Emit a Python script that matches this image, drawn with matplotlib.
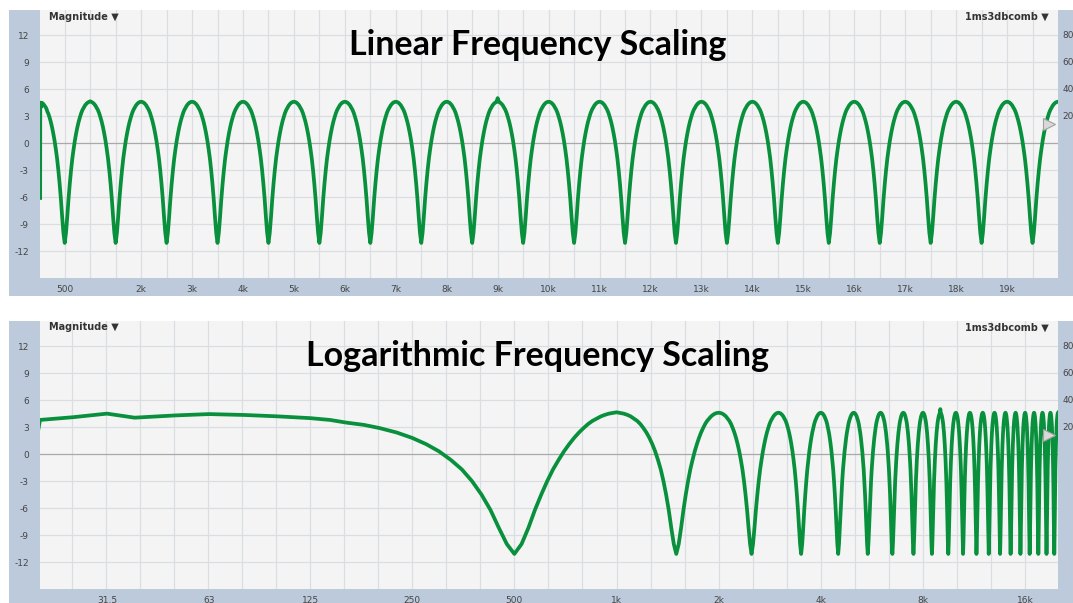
import matplotlib
matplotlib.use("Agg")
import matplotlib.pyplot as plt
import matplotlib.transforms as mtransforms
from matplotlib.patches import Rectangle

low_freq = [18, 20, 25, 31.5, 38, 50, 63, 80, 100, 125, 143, 160, 180, 200]
low_db = [-6.1, 3.8, 4.1, 4.5, 4.05, 4.3, 4.45, 4.35, 4.2, 4.0, 3.8, 3.5, 3.25, 2.9]

# one comb period (offset from a peak in Hz, level in dB)
lobe_offset = [0, 25, 50, 75, 100, 125, 150, 175, 200, 225, 250, 275, 300, 325,
               350, 375, 400, 425, 450, 475, 500, 525, 550, 575, 600, 625, 650,
               675, 700, 725, 750, 775, 800, 825, 850, 875, 900, 925, 950, 975]
lobe_db = [4.6, 4.57, 4.5, 4.37, 4.2, 3.95, 3.7, 3.35, 2.9, 2.4, 1.8, 1.1, 0.3, -0.65,
           -1.7, -3.0, -4.5, -6.2, -8.2, -10.0, -11.1, -10.0, -8.2, -6.2, -4.5, -3.0, -1.7,
           -0.65, 0.3, 1.1, 1.8, 2.4, 2.9, 3.35, 3.7, 3.95, 4.2, 4.37, 4.5, 4.57]

# peak level of every lobe, 0 Hz .. 20 kHz
peak_db = [4.6, 4.65, 4.6, 4.6, 4.6, 4.6, 4.6, 4.6, 4.6, 5.0, 4.6,
           4.6, 4.6, 4.6, 4.6, 4.6, 4.6, 4.6, 4.6, 4.6, 4.6]

lin_ticks = [500, 2000, 3000, 4000, 5000, 6000, 7000, 8000, 9000, 10000,
             11000, 12000, 13000, 14000, 15000, 16000, 17000, 18000, 19000]
lin_labels = ["500", "2k", "3k", "4k", "5k", "6k", "7k", "8k", "9k", "10k",
              "11k", "12k", "13k", "14k", "15k", "16k", "17k", "18k", "19k"]
log_ticks = [31.5, 63, 125, 250, 500, 1000, 2000, 4000, 8000, 16000]
log_labels = ["31.5", "63", "125", "250", "500", "1k", "2k", "4k", "8k", "16k"]
y_ticks = [12, 9, 6, 3, 0, -3, -6, -9, -12]
right_labels = ["80", "60", "40", "20"]
marker_db = 2.1

# assemble the measurement: low end, then the repeating lobes
freq = list(low_freq)
level = list(low_db)
for k in range(20):
    for off, db in zip(lobe_offset, lobe_db):
        f = k * 1000 + off
        if f <= low_freq[-1]:
            continue
        freq.append(f)
        level.append(peak_db[k] if off == 0 else db)
freq.append(20000)
level.append(peak_db[20])

W, H = 1073, 603
GREEN = "#08903d"
FRAME = "#bccadb"
PLOT_BG = "#f4f4f4"
GRID = "#dcdde3"

fig = plt.figure(figsize=(W / 100, H / 100), dpi=100)
fig.patch.set_facecolor("white")


def panel(top, title, log):
    # bluish frame behind the plot area
    fig.patches.append(Rectangle((9 / W, 1 - (top + 286) / H), 1064 / W, 286 / H,
                                 transform=fig.transFigure, facecolor=FRAME,
                                 edgecolor="none", zorder=-10))
    ax = fig.add_axes([40 / W, 1 - (top + 268) / H, 1018 / W, 268 / H])
    ax.set_zorder(1)
    ax.set_facecolor(PLOT_BG)
    for s in ax.spines.values():
        s.set_visible(False)

    if log:
        ax.set_xscale("log")
        ax.set_xlim(20, 20000)
        for k in range(-16, 13):
            ax.axvline(1000 * 2 ** (k / 3), color=GRID, lw=0.9, zorder=1)
        ax.set_xticks(log_ticks)
        ax.set_xticklabels(log_labels)
        ax.xaxis.set_minor_locator(matplotlib.ticker.NullLocator())
    else:
        ax.set_xlim(15, 20000)
        for f in range(500, 20000, 500):
            ax.axvline(f, color=GRID, lw=0.9, zorder=1)
        ax.set_xticks(lin_ticks)
        ax.set_xticklabels(lin_labels)

    ax.set_ylim(-15, 14.8)
    for y in y_ticks:
        ax.axhline(y, color="#a9a9a9" if y == 0 else GRID, lw=0.9, zorder=1)
    ax.set_yticks(y_ticks)
    ax.set_yticklabels([str(y) for y in y_ticks])
    ax.tick_params(length=0, labelsize=6.5, labelcolor="#454545", pad=5)
    ax.tick_params(axis="y", pad=8)

    ax.plot(freq, level, color=GREEN, lw=2.7, zorder=3, solid_joinstyle="round")

    trans = mtransforms.blended_transform_factory(ax.transAxes, ax.transData)
    ax.plot([0.991], [marker_db], transform=trans, marker=">", ms=9,
            mfc="#d9d9d9", mec="#a0a0a0", mew=0.8, ls="none", zorder=4, clip_on=False)
    for lab, y in zip(right_labels, y_ticks[:4]):
        ax.text(1.0047, y, lab, transform=trans, fontsize=6.5, color="#454545",
                ha="left", va="center", clip_on=False)

    ax.text(9 / 1018, 1 - 6.5 / 268, "Magnitude \u25bc", transform=ax.transAxes,
            fontsize=7, fontweight="bold", color="#333333", ha="left", va="center")
    ax.text(1 - 9 / 1018, 1 - 6.5 / 268, "1ms3dbcomb \u25bc", transform=ax.transAxes,
            fontsize=7, fontweight="bold", color="#333333", ha="right", va="center")

    fig.text(538 / W, 1 - (top + 35) / H, title, fontsize=24.5, fontweight="bold",
             family=["Lato", "DejaVu Sans"], color="black", ha="center", va="center",
             zorder=5)
    return ax


panel(10, "Linear Frequency Scaling", log=False)
panel(321, "Logarithmic Frequency Scaling", log=True)

fig.savefig("out.png", dpi=100, facecolor=fig.get_facecolor())
